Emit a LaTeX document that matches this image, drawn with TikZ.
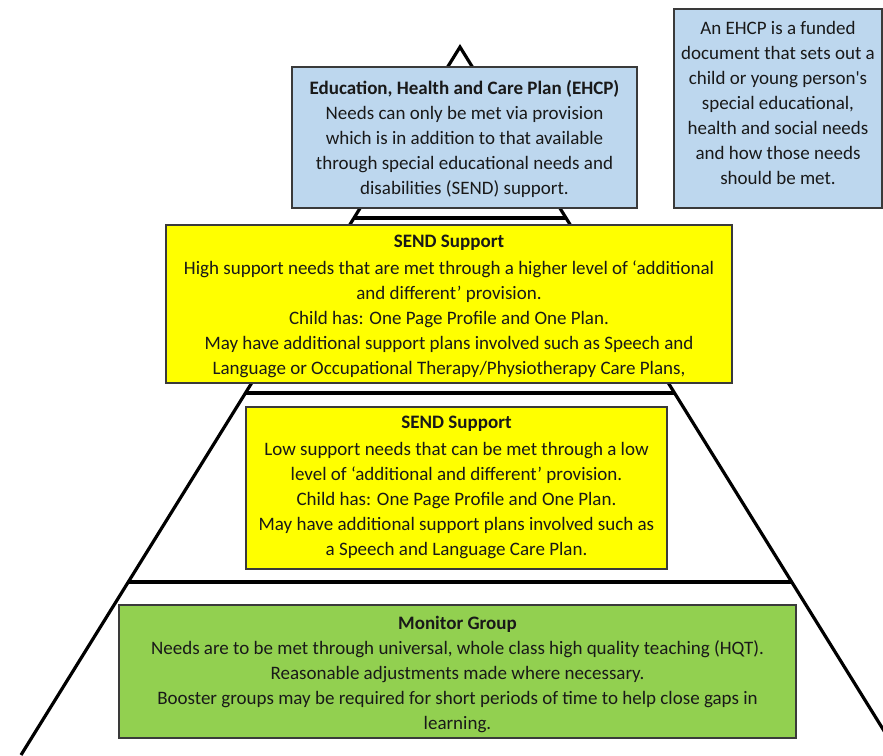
\documentclass[tikz,border=0pt]{standalone}
\usepackage{fontspec}
\setmainfont{Carlito}
\usetikzlibrary{calc}
\definecolor{ehcpblue}{HTML}{BDD7EE}
\definecolor{sendyellow}{HTML}{FFFF00}
\definecolor{monitorgreen}{HTML}{92D050}
\definecolor{boxborder}{HTML}{3A3A3A}
\begin{document}
\begin{tikzpicture}[x=1pt,y=-1pt,
  pyr/.style={line width=3.2pt, line join=miter},
  tier/.style={line width=3.2pt},
  boxshape/.style={draw=boxborder, line width=1.2pt, inner sep=0pt, rectangle},
  boxtext/.style={align=center, font=\fontsize{19}{25}\selectfont, inner sep=0pt, text=black!90},
]
\useasboundingbox (0,0) rectangle (883,755);
\clip (0,0) rectangle (883,755);
\fill[white] (0,0) rectangle (883,755);
% pyramid
\coordinate (apex) at (460,47);
\coordinate (bl) at (21,755);
\coordinate (br) at (899,755);
\draw[pyr] (bl) -- (apex) -- (br);
\coordinate (t1l) at ($(apex)!0.2415!(bl)$);
\coordinate (t1r) at ($(apex)!0.2415!(br)$);
\coordinate (t2l) at ($(apex)!0.4887!(bl)$);
\coordinate (t2r) at ($(apex)!0.4887!(br)$);
\coordinate (t3l) at ($(apex)!0.7556!(bl)$);
\coordinate (t3r) at ($(apex)!0.7556!(br)$);
\draw[tier] (t1l) -- (t1r);
\draw[tier] (t2l) -- (t2r);
\draw[tier] (t3l) -- (t3r);
% boxes
\node[boxshape, fill=ehcpblue, minimum width=345pt, minimum height=141pt] (ehcpbox) at (464.5,137.5) {};
\node[boxtext] (ehcptext) at (464.5,138.5) {\textbf{Education, Health and Care Plan (EHCP)}\\
Needs can only be met via provision\\
which is in addition to that available\\
through special educational needs and\\
disabilities (SEND) support.};

\node[boxshape, fill=ehcpblue, minimum width=208pt, minimum height=199pt] (notebox) at (778,108.5) {};
\node[boxtext] (notetext) at (778,102.5) {An EHCP is a funded\\
document that sets out a\\
child or young person\textquotesingle s\\
special educational,\\
health and social needs\\
and how those needs\\
should be met.};

\node[boxshape, fill=sendyellow, minimum width=566pt, minimum height=158pt] (highbox) at (449,304) {};
\node[boxtext] (hightext) at (449,306) {\textbf{SEND Support}\\[2pt]
High support needs that are met through a higher level of ‘additional\\
and different’ provision.\\
Child has: One Page Profile and One Plan.\\
May have additional support plans involved such as Speech and\\
Language or Occupational Therapy/Physiotherapy Care Plans,};

\node[boxshape, fill=sendyellow, minimum width=421pt, minimum height=162pt] (lowbox) at (456.5,488) {};
\node[boxtext] (lowtext) at (456.5,487.5) {\textbf{SEND Support}\\[2pt]
Low support needs that can be met through a low\\
level of ‘additional and different’ provision.\\
Child has: One Page Profile and One Plan.\\
May have additional support plans involved such as\\
a Speech and Language Care Plan.};

\node[boxshape, fill=monitorgreen, minimum width=677pt, minimum height=133pt] (monbox) at (457.5,671.5) {};
\node[boxtext] (montext) at (457.5,674) {\textbf{Monitor Group}\\
Needs are to be met through universal, whole class high quality teaching (HQT).\\
Reasonable adjustments made where necessary.\\
Booster groups may be required for short periods of time to help close gaps in\\
learning.};
\end{tikzpicture}
\end{document}
